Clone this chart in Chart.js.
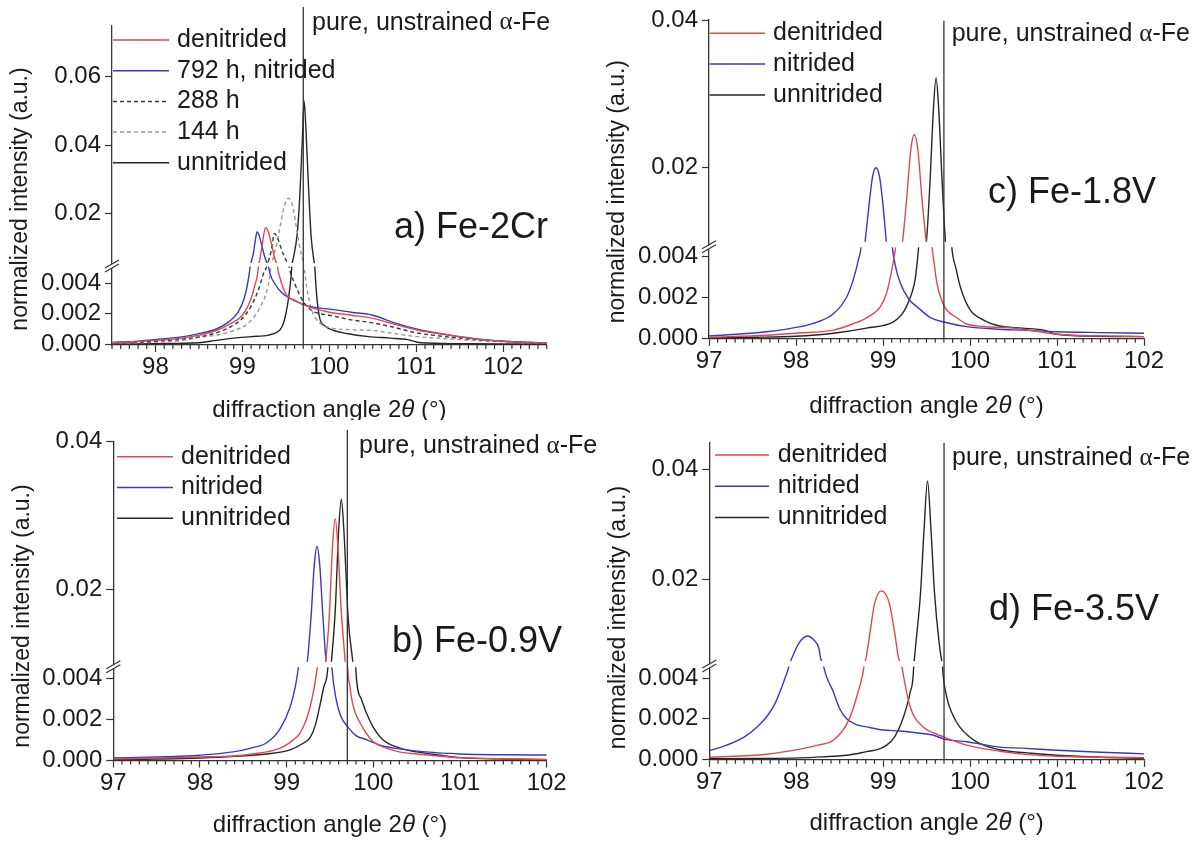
<!DOCTYPE html>
<html>
<head>
<meta charset="utf-8">
<script src="https://cdn.jsdelivr.net/npm/chart.js@4.4.1/dist/chart.umd.min.js"></script>
<style>
  html, body { margin: 0; padding: 0; background: #fff; }
  #fig { position: relative; width: 1201px; height: 841px; overflow: hidden; }
  #fig canvas { position: absolute; }
</style>
</head>
<body>
<div id="fig">
  <canvas id="panelA" width="600" height="420" style="left:0;top:0"></canvas>
  <canvas id="panelC" width="601" height="420" style="left:600px;top:0"></canvas>
  <canvas id="panelB" width="600" height="421" style="left:0;top:420px"></canvas>
  <canvas id="panelD" width="601" height="421" style="left:600px;top:420px"></canvas>
</div>
<script>
const FONT = "'Liberation Sans', Arial, sans-serif";

// ---- data (2theta in degrees, normalized intensity) ----
const legendA = ["denitrided", "792 h, nitrided", "288 h", "144 h", "unnitrided"];
const legendV = ["denitrided", "nitrided", "unnitrided"];
const panelNames = ["a) Fe-2Cr", "b) Fe-0.9V", "c) Fe-1.8V", "d) Fe-3.5V"];
const xTicksA = [98, 99, 100, 101, 102];
const xTicksV = [97, 98, 99, 100, 101, 102];
const lowTicks = [0, 0.002, 0.004];
const highTicksA = [0.02, 0.04, 0.06];
const highTicksV = [0.02, 0.04];
const alphaFeAngle = 99.7;

const a_denitrided = [[97.5,0.0001],[97.8,0.00018],[98.0,0.00025],[98.3,0.0004],[98.5,0.0006],[98.7,0.0009],[98.85,0.0013],[99.0,0.0019],[99.08,0.0027],[99.14,0.0038],[99.19,0.0055],[99.22,0.0095],[99.25,0.0145],[99.27,0.0159],[99.3,0.0145],[99.34,0.0105],[99.37,0.0072],[99.4,0.0052],[99.44,0.0042],[99.51,0.0032],[99.6,0.0029],[99.7,0.0026],[99.85,0.0023],[100.0,0.0021],[100.25,0.0019],[100.5,0.0017],[100.75,0.0013],[101.0,0.00095],[101.25,0.0007],[101.5,0.00048],[101.75,0.0003],[102.0,0.0002],[102.25,0.00013],[102.5,0.0001]];
const a_nitrided = [[97.5,0.00012],[97.8,0.0002],[98.0,0.0003],[98.3,0.00048],[98.5,0.0007],[98.7,0.001],[98.85,0.0015],[98.95,0.0021],[99.02,0.003],[99.07,0.0043],[99.1,0.0058],[99.13,0.009],[99.15,0.0125],[99.17,0.0147],[99.19,0.0138],[99.22,0.011],[99.25,0.008],[99.28,0.0058],[99.32,0.0046],[99.38,0.0039],[99.45,0.0034],[99.55,0.003],[99.7,0.0026],[99.85,0.0024],[100.0,0.0023],[100.25,0.0021],[100.5,0.0019],[100.75,0.0014],[101.0,0.001],[101.25,0.00072],[101.5,0.0005],[101.75,0.00032],[102.0,0.0002],[102.25,0.00013],[102.5,0.0001]];
const a_288h = [[97.5,0.00008],[97.8,0.00014],[98.0,0.0002],[98.3,0.00033],[98.5,0.00048],[98.7,0.00075],[98.85,0.0011],[99.0,0.0017],[99.1,0.0025],[99.18,0.0035],[99.24,0.0046],[99.29,0.0056],[99.33,0.009],[99.37,0.0142],[99.41,0.0125],[99.45,0.0095],[99.5,0.0065],[99.54,0.005],[99.6,0.004],[99.7,0.0028],[99.8,0.0022],[99.9,0.002],[100.0,0.0019],[100.25,0.0016],[100.5,0.0014],[100.75,0.0011],[101.0,0.00075],[101.25,0.00055],[101.5,0.0004],[101.75,0.00028],[102.0,0.0002],[102.25,0.00012],[102.5,0.0001]];
const a_144h = [[97.5,0.00005],[97.8,0.0001],[98.0,0.00014],[98.3,0.00025],[98.5,0.00045],[98.7,0.0006],[98.9,0.0009],[99.05,0.0013],[99.15,0.0019],[99.22,0.0026],[99.27,0.0033],[99.32,0.0047],[99.36,0.0075],[99.42,0.0145],[99.48,0.022],[99.53,0.0245],[99.58,0.022],[99.63,0.0145],[99.67,0.009],[99.71,0.0052],[99.75,0.0034],[99.8,0.0022],[99.87,0.0015],[100.0,0.0011],[100.25,0.00095],[100.5,0.0009],[100.75,0.0007],[101.0,0.0005],[101.25,0.0004],[101.5,0.0003],[101.75,0.00022],[102.0,0.00016],[102.25,0.0001],[102.5,0.00008]];
const a_unnitrided = [[97.5,0.00002],[98.0,0.00004],[98.5,0.0001],[98.7,0.00025],[98.9,0.0004],[99.1,0.0005],[99.3,0.0006],[99.4,0.0008],[99.46,0.0012],[99.5,0.002],[99.53,0.003],[99.56,0.0045],[99.59,0.0075],[99.63,0.014],[99.66,0.025],[99.69,0.042],[99.71,0.0529],[99.73,0.045],[99.76,0.028],[99.79,0.0135],[99.82,0.0068],[99.85,0.0035],[99.89,0.0017],[99.95,0.0012],[100.05,0.0009],[100.2,0.0007],[100.45,0.0005],[100.7,0.0004],[100.9,0.0003],[101.05,0.0001],[101.5,0.00004],[102.0,0.00002],[102.5,0.00002]];

const b_denitrided = [[97.0,0.00005],[97.5,0.0001],[98.0,0.00015],[98.38,0.0002],[98.6,0.0003],[98.77,0.0004],[98.96,0.00065],[99.08,0.001],[99.15,0.0013],[99.22,0.0019],[99.27,0.0026],[99.32,0.0036],[99.36,0.0048],[99.44,0.0093],[99.49,0.016],[99.53,0.026],[99.56,0.0296],[99.59,0.026],[99.63,0.017],[99.68,0.0093],[99.7,0.005],[99.73,0.0036],[99.77,0.0026],[99.85,0.0018],[99.92,0.0013],[100.0,0.0009],[100.11,0.00065],[100.3,0.0004],[100.5,0.0003],[100.75,0.0002],[101.0,0.00012],[101.5,0.00006],[102.0,0.00003]];
const b_nitrided = [[97.0,0.0001],[97.5,0.00015],[98.0,0.00024],[98.38,0.0004],[98.6,0.0006],[98.77,0.00085],[98.92,0.0015],[99.04,0.0026],[99.1,0.0036],[99.14,0.0047],[99.23,0.0093],[99.28,0.016],[99.32,0.0235],[99.35,0.0258],[99.38,0.0235],[99.42,0.016],[99.46,0.0093],[99.52,0.0046],[99.57,0.003],[99.62,0.0022],[99.71,0.0016],[99.8,0.0012],[99.92,0.001],[100.1,0.0007],[100.3,0.00055],[100.6,0.0004],[101.0,0.0003],[101.5,0.00026],[102.0,0.00025]];
const b_unnitrided = [[97.0,0.00002],[97.5,0.00005],[98.0,0.0001],[98.4,0.00018],[98.77,0.0003],[99.04,0.0005],[99.18,0.0008],[99.27,0.0011],[99.33,0.0017],[99.38,0.0026],[99.43,0.0036],[99.48,0.0048],[99.51,0.0093],[99.56,0.017],[99.6,0.028],[99.63,0.0322],[99.66,0.028],[99.71,0.016],[99.77,0.0093],[99.8,0.0043],[99.86,0.003],[99.92,0.0023],[100.0,0.0016],[100.11,0.001],[100.3,0.0006],[100.5,0.0004],[100.75,0.00025],[101.0,0.00012],[101.5,0.00005],[102.0,0.00002]];

const c_denitrided = [[97.0,0.00005],[97.66,0.00015],[98.0,0.00025],[98.43,0.0004],[98.65,0.0007],[98.81,0.001],[98.97,0.00155],[99.04,0.0022],[99.08,0.0029],[99.12,0.0038],[99.15,0.0047],[99.22,0.0095],[99.27,0.0155],[99.32,0.0225],[99.36,0.0245],[99.4,0.0225],[99.45,0.0155],[99.5,0.0097],[99.56,0.0047],[99.59,0.0036],[99.62,0.0027],[99.67,0.0019],[99.73,0.0014],[99.85,0.001],[99.96,0.0007],[100.15,0.00058],[100.5,0.0005],[100.75,0.00035],[101.0,0.0002],[101.5,0.00012],[102.0,0.00008]];
const c_nitrided = [[97.0,0.00011],[97.66,0.00032],[98.05,0.00057],[98.25,0.0008],[98.43,0.0012],[98.58,0.002],[98.66,0.0029],[98.72,0.0039],[98.75,0.0047],[98.79,0.0095],[98.84,0.015],[98.88,0.0188],[98.92,0.02],[98.96,0.0188],[99.0,0.015],[99.04,0.0098],[99.1,0.0048],[99.14,0.0036],[99.2,0.0027],[99.3,0.0019],[99.39,0.00155],[99.55,0.001],[99.7,0.0008],[99.96,0.00057],[100.34,0.00044],[100.6,0.0004],[101.0,0.00032],[101.5,0.00028],[102.0,0.00025]];
const c_unnitrided = [[97.0,0.00002],[97.5,0.00005],[98.0,0.0001],[98.43,0.00025],[98.81,0.0005],[99.12,0.0008],[99.22,0.0012],[99.27,0.00155],[99.33,0.0022],[99.37,0.0029],[99.41,0.0045],[99.5,0.0101],[99.54,0.018],[99.58,0.028],[99.61,0.0322],[99.64,0.028],[99.68,0.018],[99.72,0.0097],[99.79,0.0045],[99.84,0.0034],[99.89,0.0025],[100.0,0.0014],[100.15,0.0009],[100.34,0.0006],[100.6,0.0005],[100.85,0.0004],[101.0,0.0002],[101.5,0.0001],[102.0,0.00008]];

const d_denitrided = [[97.0,0.0001],[97.66,0.00025],[98.04,0.0005],[98.25,0.0007],[98.43,0.00095],[98.6,0.0019],[98.71,0.0033],[98.78,0.0046],[98.8,0.0055],[98.85,0.0105],[98.9,0.0155],[98.98,0.0179],[99.07,0.0157],[99.13,0.0105],[99.18,0.0055],[99.21,0.0047],[99.31,0.0026],[99.46,0.0016],[99.58,0.0013],[99.7,0.0011],[99.96,0.0007],[100.34,0.0004],[100.7,0.00022],[101.0,0.00015],[101.5,0.0001],[102.0,0.00008]];
const d_nitrided = [[97.0,0.00043],[97.2,0.0007],[97.4,0.0011],[97.55,0.0016],[97.66,0.0021],[97.75,0.0027],[97.81,0.0033],[97.87,0.004],[97.92,0.0047],[97.95,0.0057],[98.0,0.0075],[98.06,0.009],[98.13,0.0097],[98.2,0.009],[98.26,0.0075],[98.28,0.0057],[98.31,0.0047],[98.43,0.0033],[98.5,0.0025],[98.58,0.002],[98.7,0.0017],[98.81,0.0016],[99.0,0.00145],[99.19,0.0014],[99.4,0.0013],[99.57,0.0012],[99.7,0.001],[99.96,0.00087],[100.34,0.0006],[100.6,0.00055],[101.0,0.00045],[101.5,0.00035],[102.0,0.00027]];
const d_unnitrided = [[97.0,0.00003],[97.5,0.00004],[98.04,0.00007],[98.3,0.00012],[98.58,0.0002],[98.81,0.00038],[98.95,0.0005],[99.04,0.0007],[99.13,0.0011],[99.21,0.0018],[99.27,0.0026],[99.31,0.0033],[99.35,0.0045],[99.38,0.009],[99.43,0.0176],[99.47,0.029],[99.51,0.0379],[99.55,0.029],[99.59,0.0176],[99.64,0.009],[99.68,0.0047],[99.73,0.0031],[99.8,0.0022],[99.88,0.0016],[100.07,0.00087],[100.34,0.00047],[100.7,0.0003],[101.0,0.0002],[101.5,0.0001],[102.0,0.00005]];

// ---- styles and layout ----
const RED = { color: "#e0484d" };
const BLUE = { color: "#3838c4" };
const BLACK = { color: "#262626" };
const DARK_DASH = { color: "#383838", dash: [4, 3] };
const LIGHT_DASH = { color: "#999999", dash: [4, 3] };

const panels = [
  {
    id: "panelA", name: panelNames[0], xMin: 97.5, xMax: 102.5, xTicks: xTicksA, highTicks: highTicksA,
    low: [-0.00005, 0.00513], high: [0.0047, 0.0748],
    area: { left: 112, right: 546.7, top: 26, bottom: 345, brk: 266 }, gap: 3,
    series: [[a_denitrided, legendA[0], RED], [a_nitrided, legendA[1], BLUE], [a_288h, legendA[2], DARK_DASH],
             [a_144h, legendA[3], LIGHT_DASH], [a_unnitrided, legendA[4], BLACK]],
    legend: { x0: 113, x1: 169, tx: 177, y0: 40, dy: 30.7 },
    refTop: 7, refText: [312, 22.7], label: [394, 228], yTitle: 199, xTitle: 410,
  },
  {
    id: "panelB", name: panelNames[1], xMin: 97, xMax: 102, xTicks: xTicksV, highTicks: highTicksV,
    low: [-0.00002, 0.00457], high: [0.0095, 0.04],
    area: { left: 113.3, right: 546.7, top: 21.7, bottom: 340.5, brk: 246.7 }, gap: 5,
    series: [[b_denitrided, legendV[0], RED], [b_nitrided, legendV[1], BLUE], [b_unnitrided, legendV[2], BLACK]],
    legend: { x0: 117, x1: 173, tx: 181, y0: 36.7, dy: 30.8 },
    refTop: 10, refText: [359, 26], label: [392, 221.7], yTitle: 196, xTitle: 405,
  },
  {
    id: "panelC", name: panelNames[2], xMin: 97, xMax: 102, xTicks: xTicksV, highTicks: highTicksV,
    low: [-0.000025, 0.00449], high: [0.0093, 0.04],
    area: { left: 109, right: 544, top: 20, bottom: 338.8, brk: 246.7 }, gap: 5,
    series: [[c_denitrided, legendV[0], RED], [c_nitrided, legendV[1], BLUE], [c_unnitrided, legendV[2], BLACK]],
    legend: { x0: 109.6, x1: 165, tx: 173, y0: 33.3, dy: 30.8 },
    refTop: 20.7, refText: [351.7, 34.3], label: [388, 193.3], yTitle: 191.7, xTitle: 406,
  },
  {
    id: "panelD", name: panelNames[3], xMin: 97, xMax: 102, xTicks: xTicksV, highTicks: highTicksV,
    low: [-0.000025, 0.00461], high: [0.00424, 0.04484],
    area: { left: 109.3, right: 544, top: 22.7, bottom: 339.8, brk: 246 }, gap: 5,
    series: [[d_denitrided, legendV[0], RED], [d_nitrided, legendV[1], BLUE], [d_unnitrided, legendV[2], BLACK]],
    legend: { x0: 115, x1: 169, tx: 177.7, y0: 35, dy: 31.3 },
    refTop: 23, refText: [352, 38], label: [389, 190], yTitle: 197.5, xTitle: 403,
  },
];

function drawRuns(ctx, runs, x, y, center) {
  let w = 0;
  runs.forEach(([t, f]) => { ctx.font = f; w += ctx.measureText(t).width; });
  let cx = center ? x - w / 2 : x;
  ctx.textAlign = "left";
  runs.forEach(([t, f]) => { ctx.font = f; ctx.fillText(t, cx, y); cx += ctx.measureText(t).width; });
}

function figurePlugin(p) {
  return {
    id: "figure" + p.id,
    beforeDatasetDraw(chart, args) {
      const ds = chart.data.datasets[args.index];
      const s = chart.scales[ds.yAxisID];
      const a = chart.chartArea;
      const ctx = chart.ctx;
      const top = ds.yAxisID === "yLow" ? s.top + 0.5 : a.top - 20;
      const bottom = ds.yAxisID === "yLow" ? s.bottom + 3 : s.bottom - p.gap;
      ctx.save();
      ctx.beginPath();
      ctx.rect(a.left - 1, top, a.right - a.left + 2, bottom - top);
      ctx.clip();
    },
    afterDatasetDraw(chart) {
      chart.ctx.restore();
    },
    afterDraw(chart) {
      const ctx = chart.ctx;
      const a = chart.chartArea;
      const x = chart.scales.x;
      const brk = chart.scales.yLow.top;
      ctx.save();
      ctx.fillStyle = "#1a1a1a";
      ctx.strokeStyle = "#333";
      ctx.textBaseline = "middle";

      // minor x ticks
      ctx.lineWidth = 1.2;
      ctx.beginPath();
      for (let i = Math.round(p.xMin * 10); i <= Math.round(p.xMax * 10); i++) {
        if (i % 10 === 0) continue;
        const px = x.getPixelForValue(i / 10);
        ctx.moveTo(px, a.bottom);
        ctx.lineTo(px, a.bottom + 4);
      }
      ctx.stroke();

      // axis break marks
      ctx.fillStyle = "#fff";
      ctx.beginPath();
      ctx.moveTo(a.left - 7, brk + 2);
      ctx.lineTo(a.left + 7, brk - 6);
      ctx.lineTo(a.left + 7, brk - 2);
      ctx.lineTo(a.left - 7, brk + 6);
      ctx.closePath();
      ctx.fill();
      ctx.beginPath();
      [-2, 2].forEach((k) => {
        ctx.moveTo(a.left - 7, brk + 4 + k);
        ctx.lineTo(a.left + 7, brk - 4 + k);
      });
      ctx.stroke();

      // reference line for pure alpha-Fe
      const rx = x.getPixelForValue(alphaFeAngle);
      ctx.strokeStyle = "#333";
      ctx.lineWidth = 1.3;
      ctx.beginPath();
      ctx.moveTo(rx, p.refTop);
      ctx.lineTo(rx, a.bottom);
      ctx.stroke();

      ctx.fillStyle = "#1a1a1a";
      const f25 = `25px ${FONT}`;
      drawRuns(ctx, [["pure, unstrained ", f25], ["\u03b1", `25px 'Liberation Serif', serif`], ["-Fe", f25]],
        p.refText[0], p.refText[1], false);

      // panel label
      ctx.font = `36px ${FONT}`;
      ctx.fillText(p.name, p.label[0], p.label[1]);

      // legend
      const lg = p.legend;
      p.series.forEach(([, label, st], i) => {
        const y = lg.y0 + i * lg.dy;
        ctx.strokeStyle = st.color;
        ctx.lineWidth = 1.5;
        ctx.setLineDash(st.dash || []);
        ctx.beginPath();
        ctx.moveTo(lg.x0, y);
        ctx.lineTo(lg.x1, y);
        ctx.stroke();
        ctx.setLineDash([]);
        ctx.font = f25;
        ctx.fillText(label, lg.tx, y);
      });

      // axis titles
      drawRuns(ctx, [["diffraction angle 2", `24px ${FONT}`], ["\u03b8", `italic 24px ${FONT}`], [" (\u00b0)", `24px ${FONT}`]],
        (a.left + a.right) / 2, p.xTitle, true);
      ctx.translate(a.left - 91, p.yTitle);
      ctx.rotate(-Math.PI / 2);
      ctx.textAlign = "center";
      ctx.font = `23px ${FONT}`;
      ctx.fillText("normalized intensity (a.u.)", 0, 0);
      ctx.restore();
    },
  };
}

function makeChart(p) {
  const canvas = document.getElementById(p.id);
  const W = canvas.width;
  const H = canvas.height;
  const ar = p.area;
  const datasets = [];
  p.series.forEach(([data, label, st]) => {
    ["yHigh", "yLow"].forEach((axis) => {
      datasets.push({
        label,
        data: data.map(([x, y]) => ({ x, y })),
        yAxisID: axis,
        borderColor: st.color,
        borderWidth: 1.4,
        borderDash: st.dash || [],
        pointRadius: 0,
        fill: false,
        cubicInterpolationMode: "monotone",
      });
    });
  });

  const tickFont = { family: FONT, size: 24 };
  const grid = { drawOnChartArea: false, drawTicks: true, tickLength: 7, tickColor: "#333", tickWidth: 1.2 };
  const border = { display: true, color: "#333", width: 1.3 };
  const yAxis = (range, ticks, weight, fmt) => ({
    type: "linear",
    position: "left",
    stack: "v",
    stackWeight: weight,
    min: range[0],
    max: range[1],
    grid,
    border,
    ticks: { font: tickFont, color: "#1a1a1a", padding: 4, autoSkip: false, callback: fmt },
    afterBuildTicks: (s) => { s.ticks = ticks.map((v) => ({ value: v })); },
    afterFit: (s) => { s.width = ar.left; s.paddingTop = 0; s.paddingBottom = 0; },
  });

  return new Chart(canvas, {
    type: "line",
    data: { datasets },
    options: {
      responsive: false,
      animation: false,
      events: [],
      layout: { padding: { left: 0, top: ar.top, right: W - ar.right, bottom: 0 } },
      plugins: { legend: { display: false }, tooltip: { enabled: false } },
      scales: {
        x: {
          type: "linear",
          min: p.xMin,
          max: p.xMax,
          grid,
          border,
          ticks: { font: tickFont, color: "#1a1a1a", padding: 1, maxRotation: 0, autoSkip: false, callback: (v) => String(v) },
          afterBuildTicks: (s) => { s.ticks = p.xTicks.map((v) => ({ value: v })); },
          afterFit: (s) => { s.height = H - ar.bottom; s.paddingLeft = 0; s.paddingRight = 0; },
        },
        yLow: yAxis(p.low, lowTicks, ar.bottom - ar.brk, (v) => v.toFixed(3)),
        yHigh: yAxis(p.high, p.highTicks, ar.brk - ar.top, (v) => String(v)),
      },
    },
    plugins: [figurePlugin(p)],
  });
}

panels.forEach(makeChart);
</script>
</body>
</html>
